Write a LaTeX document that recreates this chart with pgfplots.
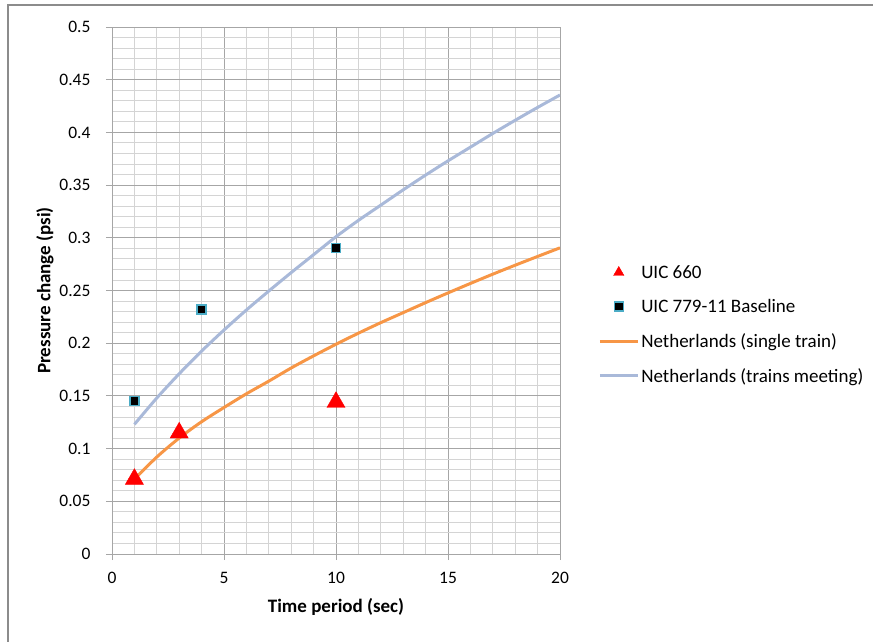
\documentclass[border=0pt]{standalone}
\usepackage{pgfplots}
\pgfplotsset{compat=1.18}
\usepackage{fontspec}
\setmainfont{Carlito}
\definecolor{orangeL}{HTML}{F79646}
\definecolor{blueL}{HTML}{A9B9D9}
\definecolor{sqEdge}{HTML}{4BACC6}
\definecolor{gridMaj}{HTML}{A6A6A6}
\definecolor{gridMin}{HTML}{D4D4D4}
\definecolor{frameC}{HTML}{8C8C8C}
\begin{document}
\begin{tikzpicture}[x=1pt,y=1pt]
\useasboundingbox (0,0) rectangle (873,641);
\draw[draw=frameC, line width=2pt] (7.5,-10) rectangle (885,635.5);
\begin{axis}[
  at={(112pt,87pt)}, anchor=south west,
  scale only axis, width=448pt, height=527pt,
  xmin=0, xmax=20, ymin=0, ymax=0.5,
  xtick={0,5,10,15,20},
  ytick={0,0.05,0.1,0.15,0.2,0.25,0.3,0.35,0.4,0.45,0.5},
  yticklabels={0,0.05,0.1,0.15,0.2,0.25,0.3,0.35,0.4,0.45,0.5},
  minor x tick num=4, minor y tick num=4,
  grid=both,
  major grid style={gridMaj, line width=0.9pt},
  minor grid style={gridMin, line width=0.9pt},
  axis line style={gridMaj, line width=0.9pt},
  tick pos=left, tick align=outside,
  major tick length=6pt, minor tick length=0pt,
  every tick/.style={gridMaj, line width=0.9pt},
  tick label style={font=\fontsize{17.5}{20}\selectfont, black},
  /pgf/number format/assume math mode=true,
  xticklabel style={yshift=-9pt},
  yticklabel style={xshift=-12pt},
  xlabel={\textbf{Time period (sec)}},
  ylabel={\textbf{Pressure change (psi)}},
  label style={font=\fontsize{19}{22}\selectfont},
  xlabel style={at={(axis description cs:0.5,-0.1006)}, anchor=center},
  ylabel style={at={(axis description cs:-0.1496,0.5)}, anchor=center},
  legend style={at={(1.085,0.552)}, anchor=north west, draw=none, fill=none,
    font=\fontsize{19}{22}\selectfont, row sep=15.5pt,
    inner sep=0pt, cells={anchor=west}},
  legend cell align=left,
]
\addplot[only marks, mark=triangle*, mark size=10.5pt, red, mark options={fill=red, draw=red},
  legend image code/.code={\draw[mark repeat=2,mark phase=2, mark size=6pt] plot coordinates {(0pt,0pt)(19pt,0pt)(38pt,0pt)};}]
  coordinates {(1,0.071) (3,0.115) (10,0.144)};
\addlegendentry{UIC 660}
\addplot[only marks, mark=square*, mark size=4.5pt, mark options={fill=black, draw=sqEdge, line width=1.3pt},
  legend image code/.code={\draw[mark repeat=2,mark phase=2] plot coordinates {(0pt,0pt)(19pt,0pt)(38pt,0pt)};}]
  coordinates {(1,0.145) (4,0.232) (10,0.290)};
\addlegendentry{UIC 779-11 Baseline}
\addplot[orangeL, line width=3pt, smooth, no marks,
  legend image code/.code={\draw[line width=3pt] (0pt,0pt) -- (38pt,0pt);}]
  coordinates {(1,0.071) (2,0.092) (3,0.110) (4,0.1255) (5,0.139) (6,0.152) (7,0.164) (8,0.1765) (9,0.188) (10,0.199) (11,0.2095) (12,0.2195) (13,0.229) (14,0.2385) (15,0.2477) (16,0.2567) (17,0.2655) (18,0.274) (19,0.2823) (20,0.2905)};
\addlegendentry{Netherlands (single train)}
\addplot[blueL, line width=3pt, smooth, no marks,
  legend image code/.code={\draw[line width=3pt] (0pt,0pt) -- (38pt,0pt);}]
  coordinates {(1,0.123) (2,0.148) (3,0.171) (4,0.1925) (5,0.2125) (6,0.2315) (7,0.2495) (8,0.267) (9,0.284) (10,0.301) (11,0.3165) (12,0.331) (13,0.3455) (14,0.3595) (15,0.373) (16,0.386) (17,0.399) (18,0.4115) (19,0.4237) (20,0.4355)};
\addlegendentry{Netherlands (trains meeting)}
\end{axis}
\end{tikzpicture}
\end{document}
